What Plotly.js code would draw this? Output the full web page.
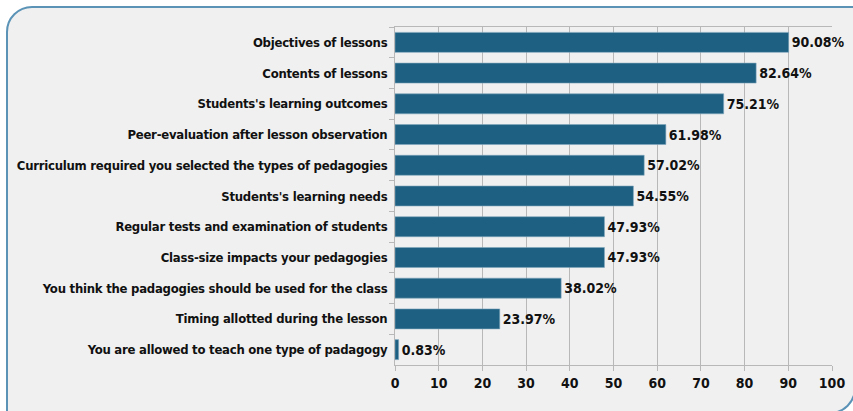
<!DOCTYPE html>
<html>
<head>
<meta charset="utf-8">
<script src="https://cdn.plot.ly/plotly-3.0.1.min.js"></script>
<style>
  html, body { margin: 0; padding: 0; background: #ffffff; overflow: hidden; }
  #wrap { position: relative; width: 853px; height: 411px; overflow: hidden; }
  #box { position: absolute; left: 6px; top: 6px; width: 850px; height: 408px;
         box-sizing: border-box; border: 2px solid #5b93b7; border-radius: 26px 0 26px 0;
         background: #f0f0f0; }
  #chart { position: absolute; left: 0; top: 0; width: 853px; height: 411px; }
  #chart .ytick text { letter-spacing: -0.25px; }
  #chart .textpoint text { letter-spacing: -0.2px; }
</style>
</head>
<body>
<div id="wrap">
  <div id="box"></div>
  <div id="chart"></div>
</div>
<script>
const categories = [
  "Objectives of lessons",
  "Contents of lessons",
  "Students's learning outcomes",
  "Peer-evaluation after lesson observation",
  "Curriculum required you selected the types of pedagogies",
  "Students's learning needs",
  "Regular tests and examination of students",
  "Class-size impacts your pedagogies",
  "You think the padagogies should be used for the class",
  "Timing allotted during the lesson",
  "You are allowed to teach one type of padagogy"
];
const values = [90.08, 82.64, 75.21, 61.98, 57.02, 54.55, 47.93, 47.93, 38.02, 23.97, 0.83];
const xTicks = [0, 10, 20, 30, 40, 50, 60, 70, 80, 90, 100];

const FONT = '"Liberation Sans Narrow", "DejaVu Sans Condensed", "Arial Narrow", sans-serif';

const trace = {
  type: 'bar',
  orientation: 'h',
  y: categories,
  x: values,
  marker: { color: '#1d6081', line: { color: '#7fa6bd', width: 0.6 } },
  text: values.map(v => v.toFixed(2) + '%'),
  textposition: 'outside',
  cliponaxis: false,
  textfont: { family: FONT, size: 14, color: '#111111', weight: 'bold' },
  hoverinfo: 'none'
};

const layout = {
  width: 853, height: 411,
  margin: { l: 395, r: 21, t: 27, b: 46 },
  paper_bgcolor: 'rgba(0,0,0,0)',
  plot_bgcolor: 'rgba(0,0,0,0)',
  bargap: 0.35,
  showlegend: false,
  font: { family: FONT, size: 14, color: '#111111', weight: 'bold' },
  xaxis: {
    range: [0, 100],
    tickvals: xTicks,
    ticktext: xTicks.map(String),
    showgrid: true, gridcolor: '#b8b8b8', gridwidth: 1,
    showline: true, linecolor: '#b8b8b8', linewidth: 1, mirror: true,
    ticks: 'outside', ticklen: 5, tickcolor: '#b8b8b8',
    tickfont: { family: FONT, size: 14, color: '#111111', weight: 'bold' },
    zeroline: false, fixedrange: true
  },
  yaxis: {
    type: 'category',
    autorange: 'reversed',
    tickson: 'boundaries',
    ticks: 'outside', ticklen: 5, tickcolor: '#b8b8b8',
    showgrid: false,
    showline: true, linecolor: '#b8b8b8', linewidth: 1,
    tickfont: { family: FONT, size: 13, color: '#111111', weight: 'bold' },
    ticklabelstandoff: 4,
    fixedrange: true
  }
};

Plotly.newPlot('chart', [trace], layout, { displayModeBar: false, staticPlot: true });
</script>
</body>
</html>
